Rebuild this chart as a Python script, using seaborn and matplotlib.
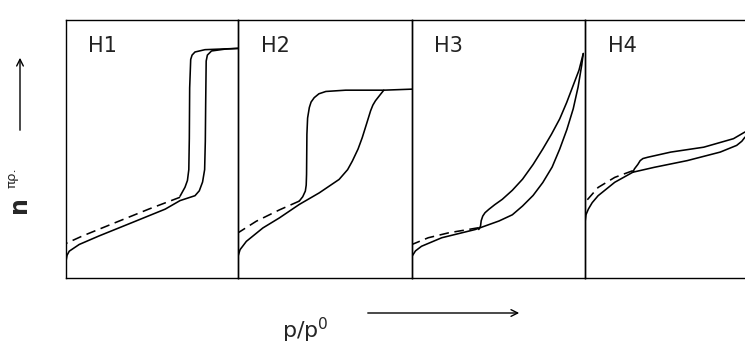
import matplotlib
matplotlib.use("Agg")
import matplotlib.pyplot as plt
import seaborn as sns
import pandas as pd

# hysteresis loop types, shapes
# coordinates are fractions of each panel (x: p/p0 axis, y: amount adsorbed)
panel_labels = ["H1", "H2", "H3", "H4"]

h1_ads_x = [0.0, 0.006, 0.019, 0.077, 0.192, 0.385, 0.577, 0.663, 0.75, 0.775, 0.794, 0.806, 0.810, 0.812, 0.815, 0.822, 0.846, 0.923, 1.0]
h1_ads_y = [0.065, 0.088, 0.104, 0.130, 0.163, 0.215, 0.267, 0.300, 0.319, 0.338, 0.372, 0.420, 0.530, 0.671, 0.841, 0.864, 0.880, 0.887, 0.890]
h1_des_x = [1.0, 0.808, 0.75, 0.733, 0.725, 0.719, 0.717, 0.714, 0.706, 0.692, 0.663]
h1_des_y = [0.890, 0.885, 0.876, 0.864, 0.847, 0.737, 0.541, 0.420, 0.378, 0.352, 0.317]
h1_low_x = [0.663, 0.481, 0.288, 0.096, 0.0]
h1_low_y = [0.313, 0.267, 0.215, 0.163, 0.134]

h2_ads_x = [0.0, 0.012, 0.048, 0.143, 0.238, 0.352, 0.467, 0.581, 0.630, 0.657, 0.690, 0.714, 0.740, 0.762, 0.775, 0.790, 0.812, 0.838, 1.0]
h2_ads_y = [0.084, 0.110, 0.142, 0.194, 0.233, 0.285, 0.330, 0.382, 0.420, 0.453, 0.500, 0.544, 0.600, 0.648, 0.670, 0.687, 0.706, 0.728, 0.732]
h2_des_x = [0.838, 0.619, 0.505, 0.465, 0.438, 0.420, 0.410, 0.400, 0.396, 0.394, 0.392, 0.387, 0.372, 0.352]
h2_des_y = [0.728, 0.728, 0.723, 0.714, 0.699, 0.682, 0.661, 0.620, 0.557, 0.402, 0.360, 0.337, 0.315, 0.298]
h2_low_x = [0.352, 0.238, 0.105, 0.0]
h2_low_y = [0.298, 0.264, 0.220, 0.175]

h3_ads_x = [0.0, 0.020, 0.055, 0.172, 0.366, 0.503, 0.580, 0.639, 0.700, 0.756, 0.810, 0.854, 0.895, 0.932, 0.960, 0.981, 0.990]
h3_ads_y = [0.084, 0.105, 0.123, 0.156, 0.188, 0.221, 0.245, 0.279, 0.320, 0.370, 0.430, 0.500, 0.575, 0.656, 0.740, 0.825, 0.870]
h3_des_x = [0.990, 0.965, 0.932, 0.894, 0.854, 0.806, 0.756, 0.700, 0.639, 0.580, 0.522, 0.478, 0.444, 0.422, 0.409, 0.400, 0.396, 0.386]
h3_des_y = [0.870, 0.805, 0.747, 0.680, 0.617, 0.557, 0.500, 0.440, 0.383, 0.340, 0.305, 0.284, 0.266, 0.253, 0.240, 0.222, 0.201, 0.188]
h3_low_x = [0.386, 0.211, 0.094, 0.0]
h3_low_y = [0.195, 0.175, 0.156, 0.130]

h4_ads_x = [0.0, 0.006, 0.021, 0.045, 0.082, 0.186, 0.299, 0.433, 0.639, 0.845, 0.948, 0.980, 1.0]
h4_ads_y = [0.215, 0.245, 0.267, 0.292, 0.319, 0.371, 0.410, 0.429, 0.455, 0.488, 0.514, 0.530, 0.546]
h4_des_x = [1.0, 0.928, 0.742, 0.536, 0.392, 0.362, 0.345, 0.330, 0.309, 0.299]
h4_des_y = [0.566, 0.540, 0.507, 0.488, 0.468, 0.463, 0.455, 0.440, 0.423, 0.410]
h4_low_x = [0.299, 0.186, 0.082, 0.010]
h4_low_y = [0.416, 0.390, 0.351, 0.300]

curves = [
    [(h1_ads_x, h1_ads_y, "-"), (h1_des_x, h1_des_y, "-"), (h1_low_x, h1_low_y, "--")],
    [(h2_ads_x, h2_ads_y, "-"), (h2_des_x, h2_des_y, "-"), (h2_low_x, h2_low_y, "--")],
    [(h3_ads_x, h3_ads_y, "-"), (h3_des_x, h3_des_y, "-"), (h3_low_x, h3_low_y, "--")],
    [(h4_ads_x, h4_ads_y, "-"), (h4_des_x, h4_des_y, "-"), (h4_low_x, h4_low_y, "--")],
]

sns.set_theme(style="white")
plt.rcParams['font.family'] = ['DejaVu Sans']

W, H = 745, 360
fig = plt.figure(figsize=(W / 100, H / 100), dpi=100)

# panel edges in pixels (left, right)
edges = [(66, 238), (238, 412), (412, 585), (585, 760)]
top, bottom = 20, 278

for i, (x0, x1) in enumerate(edges):
    ax = fig.add_axes([x0 / W, 1 - bottom / H, (x1 - x0) / W, (bottom - top) / H])
    for xs, ys, ls in curves[i]:
        df = pd.DataFrame({"x": xs, "y": ys})
        sns.lineplot(data=df, x="x", y="y", ax=ax, sort=False, estimator=None,
                     color="black", lw=1.15)
        if ls == "--":
            ax.lines[-1].set_dashes((6, 3.5))
    ax.set_xlim(0, 1 if i < 3 else (x1 - x0) / (745 - x0))
    ax.set_ylim(0, 1)
    ax.set_xticks([])
    ax.set_yticks([])
    ax.set_xlabel("")
    ax.set_ylabel("")
    for name, sp in ax.spines.items():
        sp.set_color("black")
        sp.set_linewidth(1.0)
        sp.set_visible(True)
    ax.text(0.13, 0.9, panel_labels[i], transform=ax.transAxes, fontsize=15,
            ha="left", va="center", color="#222222")
    ax.patch.set_alpha(0)

# axis titles with arrows
fig.text(19 / W, 1 - 205 / H, "n", rotation=90, fontsize=17, ha="center", va="center",
         fontweight="bold")
fig.text(12 / W, 1 - 178 / H, "πρ.", rotation=90, fontsize=9.5, ha="center", va="center")
fig.add_artist(matplotlib.patches.FancyArrowPatch(
    (20 / W, 1 - 133 / H), (20 / W, 1 - 55 / H), transform=fig.transFigure,
    arrowstyle="->", mutation_scale=12, lw=1.0, color="black"))

fig.text(305 / W, 1 - 330 / H, "p/p$^0$", fontsize=16, ha="center", va="center")
fig.add_artist(matplotlib.patches.FancyArrowPatch(
    (365 / W, 1 - 313 / H), (522 / W, 1 - 313 / H), transform=fig.transFigure,
    arrowstyle="->", mutation_scale=12, lw=1.0, color="black"))

fig.savefig("out.png", dpi=100)
